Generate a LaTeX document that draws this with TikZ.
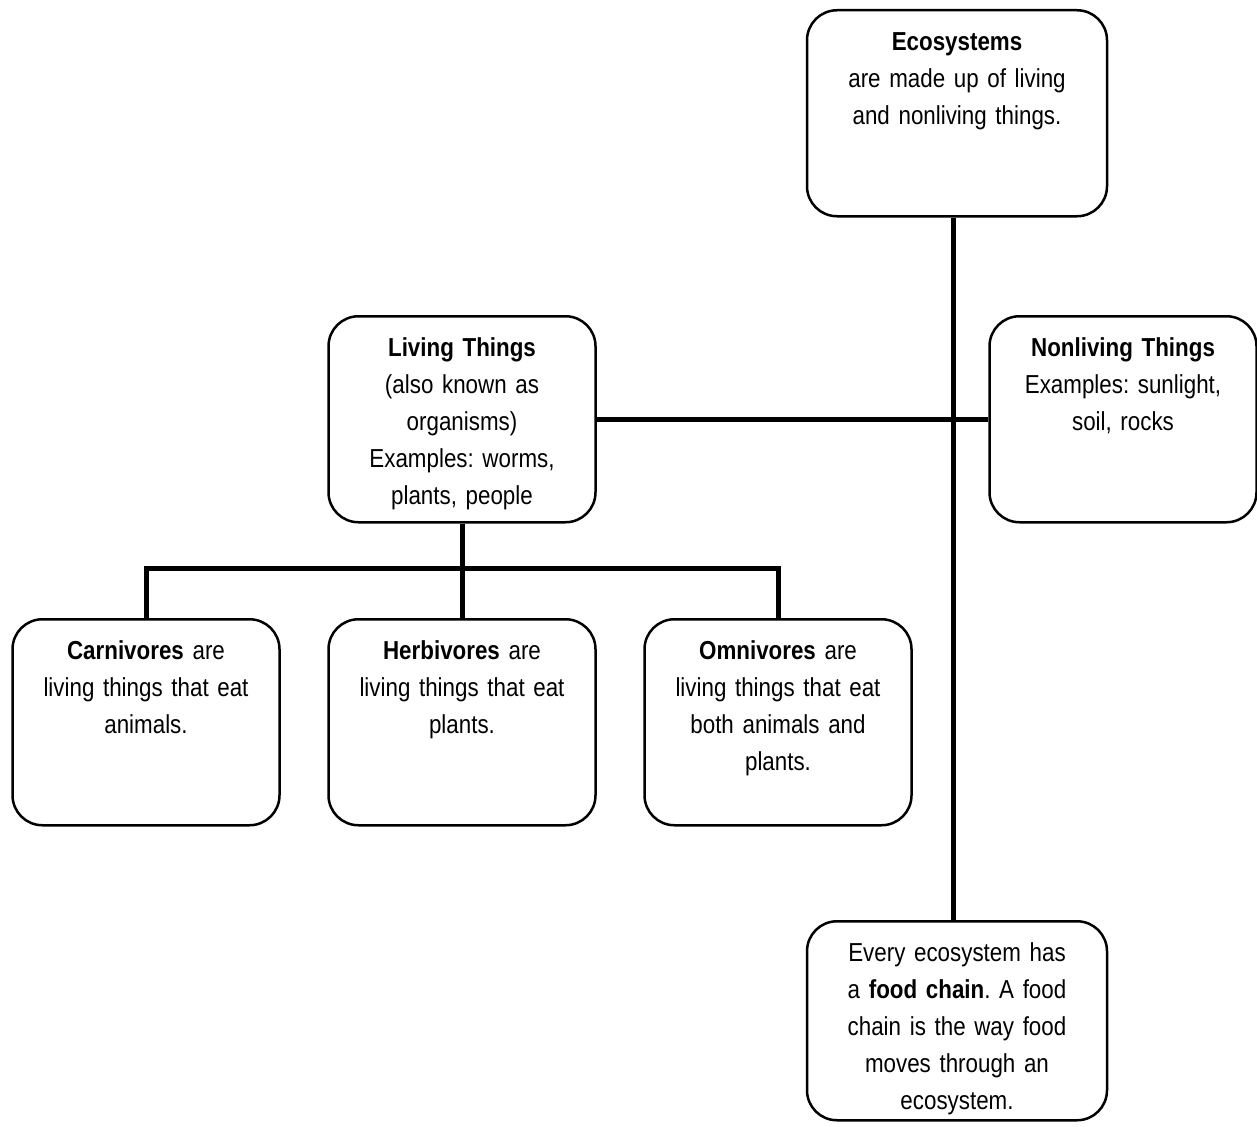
\documentclass[tikz,border=0pt]{standalone}
\usepackage{fontspec}
\setmainfont{Liberation Sans}[FakeStretch=0.86]
\frenchspacing
\usetikzlibrary{positioning}

\tikzset{
  infobox/.style={draw, line width=2.5pt, rounded corners=30pt, anchor=north,
    align=center, inner xsep=0pt, inner ysep=0pt,
    font=\fontsize{26}{37}\selectfont, text height=40pt},
  widebox/.style={infobox, text width=300pt},
  smallbox/.style={infobox, text width=267pt},
  link/.style={line width=5pt}
}

\begin{document}
\begin{tikzpicture}[x=1pt,y=-1pt]
  \useasboundingbox (0,0) rectangle (1257,1126);

  % top and bottom of the main column
  \node[widebox, text depth=166pt] (eco) at (957,9)
    {\textbf{Ecosystems}\\ are made up of living\\ and nonliving things.};
  \node[widebox, text depth=159pt] (chain) at (957,920)
    {Every ecosystem has\\ a \textbf{food chain}. A food\\ chain is the way food\\ moves through an\\ ecosystem.};

  % living and nonliving
  \node[smallbox, text depth=166pt] (living) at (462,315)
    {\textbf{Living Things}\\ (also known as\\ organisms)\\ Examples: worms,\\ plants, people};
  \node[smallbox, text depth=166pt] (nonliving) at (1123,315)
    {\textbf{Nonliving Things}\\ Examples: sunlight,\\ soil, rocks};

  % kinds of living things
  \node[smallbox, text depth=166pt] (carn) at (146,618)
    {\textbf{Carnivores} are\\ living things that eat\\ animals.};
  \node[smallbox, text depth=166pt] (herb) at (462,618)
    {\textbf{Herbivores} are\\ living things that eat\\ plants.};
  \node[smallbox, text depth=166pt] (omni) at (778,618)
    {\textbf{Omnivores} are\\ living things that eat\\ both animals and\\ plants.};

  \coordinate (fork) at (462,568);

  \draw[link] ([xshift=-4pt]eco.south) -- ([xshift=-4pt]chain.north);
  \draw[link] (living.east) -- (nonliving.west);
  \draw[link] (living.south) -- (fork);
  \draw[link] (carn.north) |- (fork) -| (omni.north);
  \draw[link] (fork) -- (herb.north);
\end{tikzpicture}
\end{document}
